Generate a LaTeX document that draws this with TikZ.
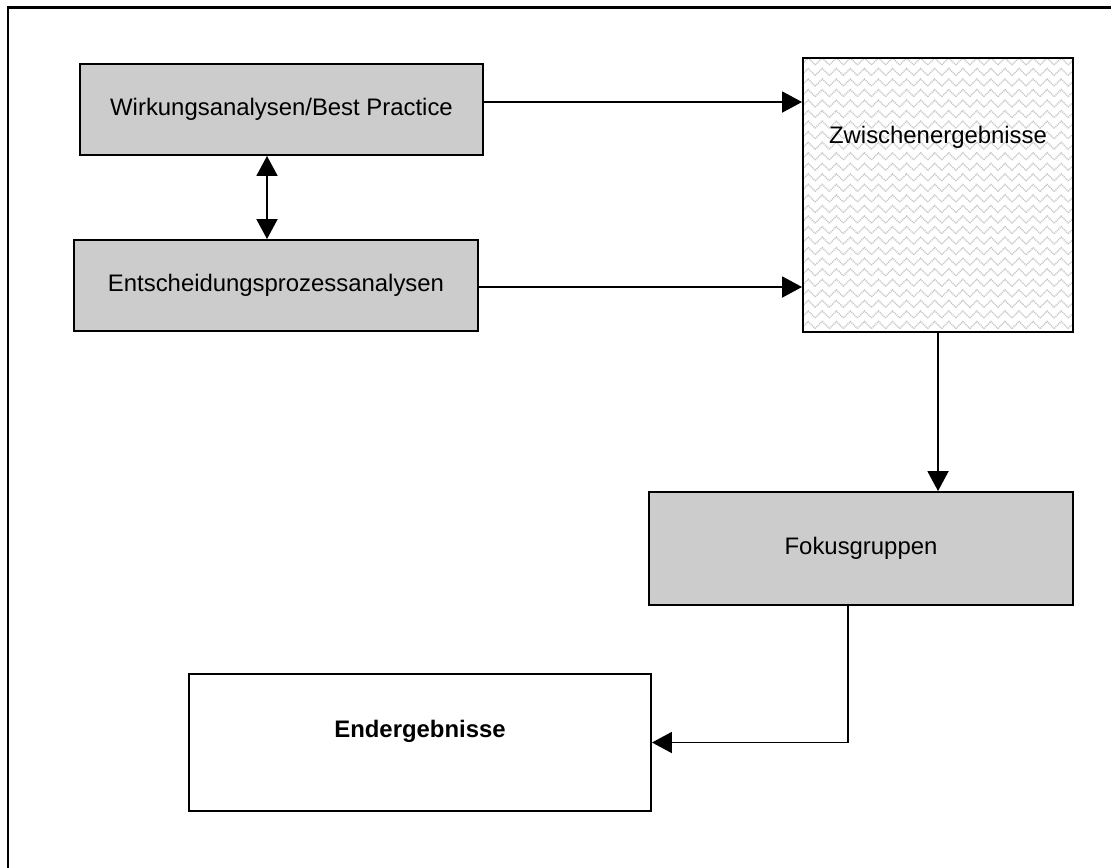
\documentclass[tikz,border=0pt]{standalone}
\usepackage{fontspec}
\setmainfont{Liberation Sans}
\usetikzlibrary{positioning}
\usetikzlibrary{arrows.meta,patterns.meta}
\usetikzlibrary{calc}

\definecolor{boxgray}{RGB}{204,204,204}

\tikzdeclarepattern{
  name=weave, type=uncolored,
  bottom left={(-0.5pt,-0.5pt)}, top right={(8.5pt,6.5pt)},
  tile size={(8pt,6pt)},
  code={
    \draw[line width=0.8pt, dash pattern=on 0.6pt off 0.5pt] (0,0.5pt) -- (4pt,4.5pt) -- (8pt,0.5pt);
  }
}

\tikzset{
  box/.style={draw, line width=1.1pt, rectangle, inner sep=0pt},
  graybox/.style={box, fill=boxgray},
  arr/.style={line width=1.1pt, -{Triangle[length=0.4cm, width=0.42cm]}},
  dblarr/.style={line width=1.1pt, {Triangle[length=0.4cm, width=0.42cm]}-{Triangle[length=0.4cm, width=0.42cm]}}
}

\begin{document}
\begin{tikzpicture}[x=0.02cm, y=-0.02cm, font=\fontsize{13.6}{16}\selectfont]

  \def\px{0.02cm}

  \useasboundingbox (0,0) rectangle (1111,867);
  \draw[line width=1.7pt] (8,7) rectangle (1140,900);

  % the boxes
  \node[graybox, minimum width=403*\px, minimum height=91*\px] (wirk) at (281.5,109.5) {Wirkungsanalysen/Best Practice};
  \node[graybox, minimum width=404*\px, minimum height=91*\px] (ents) at (276,285.5) {Entscheidungsprozessanalysen};
  \node[box, pattern=weave, pattern color=gray!45, minimum width=270*\px, minimum height=274*\px] (zw) at (938,195) {};
  \node (zwtext) at (938,137) {Zwischenergebnisse};
  \node[graybox, minimum width=424*\px, minimum height=113*\px] (fok) at (861,548.5) {Fokusgruppen};
  \node[box, fill=white, minimum width=462*\px, minimum height=137*\px] (end) at (420,742.5) {};
  \node[font=\fontsize{13.6}{16}\selectfont\bfseries] (endtext) at (420,731.5) {Endergebnisse};

  % connectors
  \draw[arr] (wirk.east |- 0,102) -- (zw.west |- 0,102);
  \draw[arr] (ents.east |- 0,287) -- (zw.west |- 0,287);
  \draw[dblarr] (wirk.south -| 267,0) -- (ents.north -| 267,0);
  \draw[arr] (zw.south) -- (fok.north -| zw.south);
  \draw[arr] (fok.south -| 848,0) |- (end.east);

\end{tikzpicture}
\end{document}
